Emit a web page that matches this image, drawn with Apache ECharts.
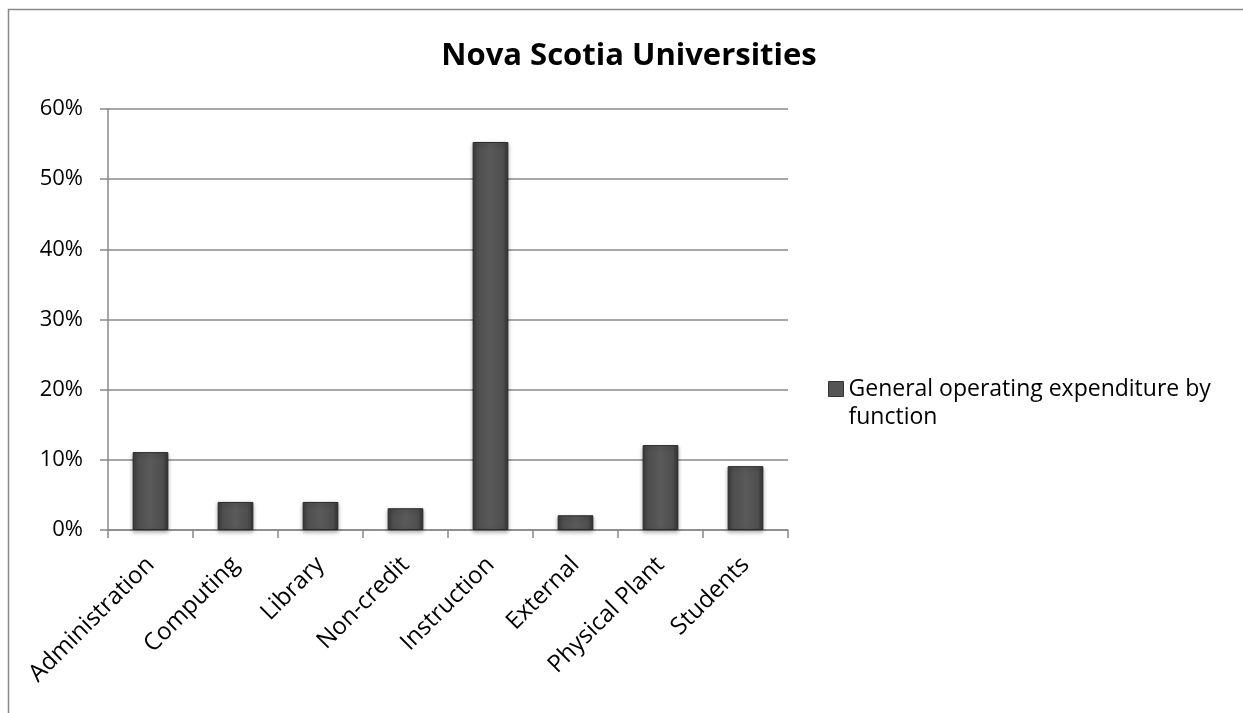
<!DOCTYPE html>
<html><head><meta charset="utf-8">
<script src="https://cdn.jsdelivr.net/npm/echarts@6/dist/echarts.min.js"></script>
<style>html,body{margin:0;padding:0;background:#fff}#c{width:1243px;height:713px}</style>
</head><body><div id="c"></div>
<script>
const categories = ['Administration','Computing','Library','Non-credit','Instruction','External','Physical Plant','Students'];
const seriesName = 'General operating expenditure by function';
const values = [11.1, 4, 4, 3.1, 55.3, 2.1, 12.1, 9.1];
const yTicks = {min: 0, max: 60, interval: 10};

const chart = echarts.init(document.getElementById('c'));
const FONT = 'Open Sans';
const barFill = new echarts.graphic.LinearGradient(0,0,1,0,[
  {offset:0,color:'#3a3a3a'},{offset:0.15,color:'#4e4e4e'},{offset:0.5,color:'#5a5a5a'},{offset:0.85,color:'#4e4e4e'},{offset:1,color:'#333'}]);
chart.setOption({
  animation:false,
  backgroundColor:'#fff',
  title:{text:'Nova Scotia Universities',left:624,top:36,textAlign:'center',
    textStyle:{fontFamily:FONT,fontWeight:'bold',fontSize:31,color:'#000'}},
  graphic:[{type:'polyline',shape:{points:[[8.5,720],[8.5,9.5],[1250,9.5]]},style:{stroke:'#888',lineWidth:1.5,fill:null}}],
  grid:{left:108,right:1243-788,top:109,bottom:713-530},
  legend:{left:828,top:347,padding:0,orient:'vertical',itemWidth:15,itemHeight:15,
    formatter:()=> '\nGeneral operating expenditure by\nfunction',
    textStyle:{fontFamily:FONT,fontSize:23,color:'#000',lineHeight:28},
    data:[{name:seriesName,icon:'rect',itemStyle:{color:'#555',borderColor:'#333',borderWidth:1}}]},
  xAxis:{type:'category',data:categories,
    axisLine:{lineStyle:{color:'#888',width:1.5}},
    axisTick:{show:true,length:8,lineStyle:{color:'#888',width:1.5}},
    axisLabel:{rotate:45,margin:31,interval:0,fontFamily:FONT,fontSize:24,color:'#000'}},
  yAxis:{type:'value',min:yTicks.min,max:yTicks.max,interval:yTicks.interval,
    axisLine:{show:true,lineStyle:{color:'#888',width:1.5}},
    axisTick:{show:true,length:8,lineStyle:{color:'#888',width:1.5}},
    splitLine:{lineStyle:{color:'#888',width:1.5}},
    axisLabel:{formatter:'{value}%',margin:25,fontFamily:FONT,fontSize:22,color:'#000'}},
  series:[{name:seriesName,type:'bar',data:values,barWidth:'42%',
    itemStyle:{color:barFill,borderColor:'#2a2a2a',borderWidth:1,shadowColor:'rgba(0,0,0,0.3)',shadowBlur:4,shadowOffsetY:2}}]
});
</script></body></html>
